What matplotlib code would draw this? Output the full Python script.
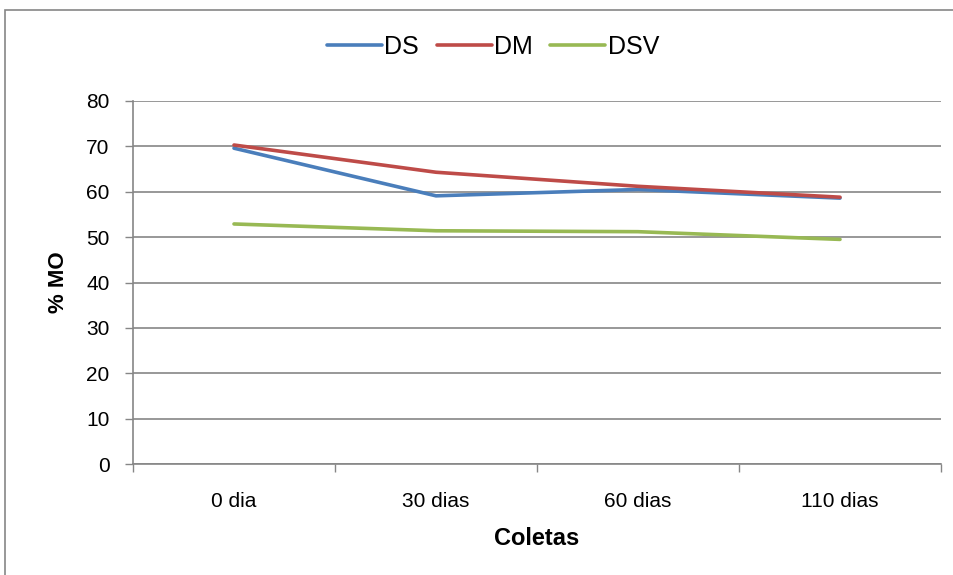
import matplotlib
matplotlib.use("Agg")
import matplotlib.pyplot as plt
from matplotlib.patches import Rectangle

categories = ["0 dia", "30 dias", "60 dias", "110 dias"]
ds = [69.6, 59.1, 60.5, 58.6]
dm = [70.3, 64.3, 61.2, 58.8]
dsv = [52.9, 51.4, 51.2, 49.5]
yticks = [0, 10, 20, 30, 40, 50, 60, 70, 80]

plt.rcParams['font.family'] = ['Liberation Sans', 'DejaVu Sans']

fig = plt.figure(figsize=(9.54, 5.75), dpi=100)
ax = fig.add_axes([133/954, 1-464/575, (941-133)/954, (464-101)/575])

x = list(range(len(categories)))
ax.plot(x, ds, color="#4A7EBB", lw=2.6, label="DS", solid_capstyle="round")
ax.plot(x, dm, color="#BE4B48", lw=2.6, label="DM", solid_capstyle="round")
ax.plot(x, dsv, color="#98B954", lw=2.6, label="DSV", solid_capstyle="round")

ax.set_xlim(-0.5, len(categories) - 0.5)
ax.set_ylim(0, 80)
ax.set_yticks(yticks)
ax.set_yticklabels([str(v) for v in yticks], fontsize=15)
ax.set_xticks(x)
ax.set_xticklabels(categories, fontsize=15)
ax.set_xticks([i - 0.5 for i in range(len(categories) + 1)], minor=True)
ax.tick_params(axis="x", which="major", length=0, pad=20)
ax.tick_params(axis="x", which="minor", length=6, color="#868686", width=1)
ax.tick_params(axis="y", length=6, color="#868686", width=1, pad=11)
ax.grid(axis="y", color="#868686", lw=1.2)
ax.set_axisbelow(True)
for s in ["top", "right"]:
    ax.spines[s].set_visible(False)
for s in ["left", "bottom"]:
    ax.spines[s].set_color("#868686")
    ax.spines[s].set_linewidth(1.2)

ax.set_ylabel("% MO", fontsize=16, fontweight="bold", labelpad=12)
ax.set_xlabel("Coletas", fontsize=17, fontweight="bold", labelpad=12)

leg = fig.legend(loc="center", bbox_to_anchor=(493/954, 1-47/575), ncol=3, frameon=False,
                 fontsize=18, handlelength=2.2, handletextpad=0.1, columnspacing=0.7)

fig.patches.append(Rectangle((5/954, -0.2), 1.0, 1.2-10/575, transform=fig.transFigure,
                             fill=False, edgecolor="#868686", lw=1.2))

fig.savefig("out.png", dpi=100)
